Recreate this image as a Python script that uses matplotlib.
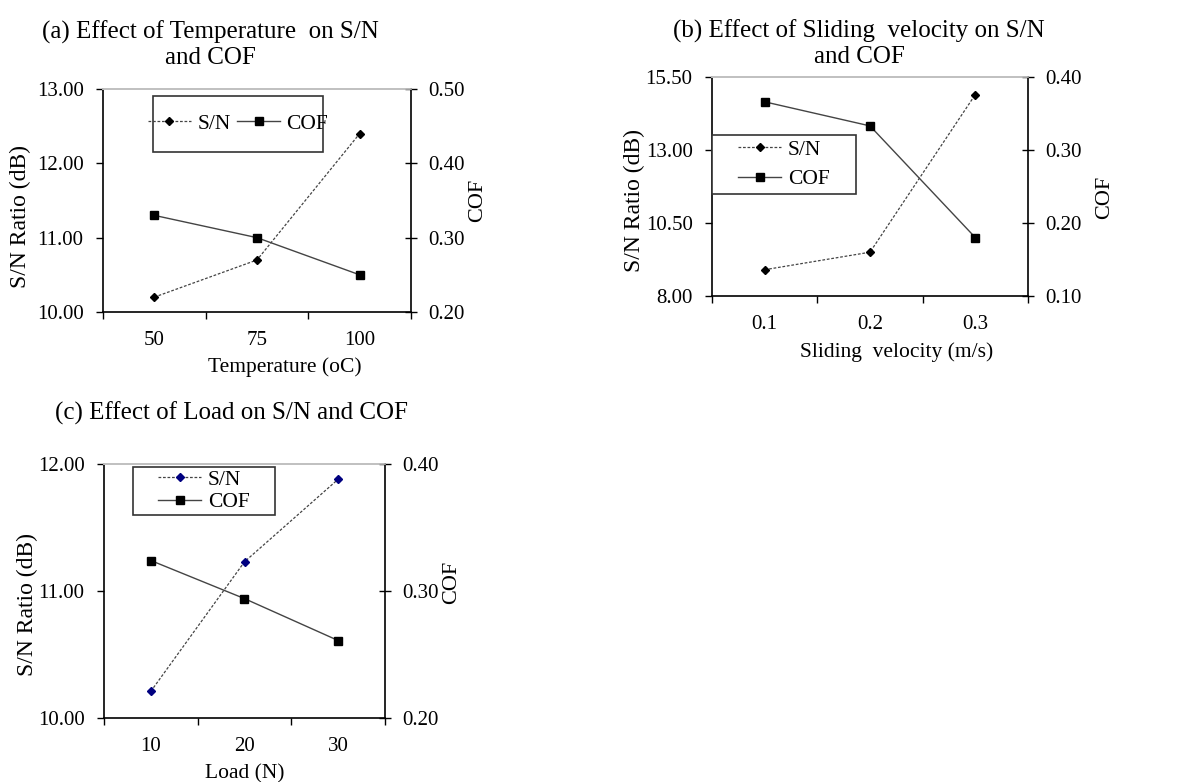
import matplotlib
matplotlib.use('Agg')
import matplotlib.pyplot as plt
from matplotlib.patches import Rectangle

plt.rcParams['font.family'] = ['Liberation Serif', 'DejaVu Serif']

# (a) temperature
temp_levels = ['50', '75', '100']
temp_sn = [10.2, 10.7, 12.4]
temp_cof = [0.33, 0.30, 0.25]

# (b) sliding velocity
vel_levels = ['0.1', '0.2', '0.3']
vel_sn = [8.9, 9.5, 14.9]
vel_cof = [0.366, 0.333, 0.18]

# (c) load
load_levels = ['10', '20', '30']
load_sn = [10.21, 11.23, 11.88]
load_cof = [0.324, 0.294, 0.261]

W, H = 1182, 782
fig = plt.figure(figsize=(W / 100, H / 100), dpi=100)


def fx(x):
    return x / W


def fy(y):
    return 1 - y / H


def panel(box, levels, sn, cof, sn_ticks, cof_ticks, sn_color):
    l, t, r, b = box
    ax = fig.add_axes([fx(l), fy(b), fx(r - l), (b - t) / H])
    ax2 = ax.twinx()
    x = list(range(1, len(levels) + 1))
    ax.plot(x, sn, linestyle=(0, (2.2, 1.4)), color='#444444', lw=0.9,
            marker='D', ms=4.5, mfc=sn_color, mec=sn_color, label='S/N')
    ax2.plot(x, cof, '-', color='#444444', lw=1.0,
             marker='s', ms=5.8, mfc='black', mec='black', label='COF')

    ax.set_xlim(0.5, len(levels) + 0.5)
    ax.set_xticks([i + 0.5 for i in range(len(levels) + 1)])
    ax.set_xticklabels([])
    ax.set_xticks(x, minor=True)
    ax.set_xticklabels(levels, minor=True)
    ax.tick_params(axis='x', which='major', direction='out', length=5, width=1)
    ax.tick_params(axis='x', which='minor', length=0, pad=14, labelsize=15)

    ax.set_ylim(sn_ticks[0], sn_ticks[-1])
    ax.set_yticks(sn_ticks)
    ax.set_yticklabels([f'{v:.2f}' for v in sn_ticks])
    ax.tick_params(axis='y', direction='out', length=5, width=1, pad=9, labelsize=15)

    ax2.set_ylim(cof_ticks[0], cof_ticks[-1])
    ax2.set_yticks(cof_ticks)
    ax2.set_yticklabels([f'{v:.2f}' for v in cof_ticks])
    ax2.tick_params(axis='y', direction='inout', length=9, width=1, pad=8, labelsize=15)

    for a in (ax, ax2):
        a.spines['top'].set_color('#c0c0c0')
        a.spines['top'].set_linewidth(1.2)
    ax.spines['right'].set_visible(False)
    ax2.spines['left'].set_visible(False)
    ax2.spines['bottom'].set_visible(False)
    ax.spines['left'].set_linewidth(1.2)
    ax.spines['bottom'].set_linewidth(1.2)
    ax2.spines['right'].set_linewidth(1.2)
    return ax, ax2


def legend_box(ax, ax2, box, ncol, labelspacing):
    l, t, r, b = box
    fig.add_artist(Rectangle((fx(l), fy(b)), fx(r - l), (b - t) / H,
                             transform=fig.transFigure, facecolor='white',
                             edgecolor='#333333', lw=1.2, zorder=3))
    handles = ax.get_lines() + ax2.get_lines()
    leg = fig.legend(handles, ['S/N', 'COF'], loc='center',
                     bbox_to_anchor=(fx((l + r) / 2), fy((t + b) / 2)),
                     ncol=ncol, frameon=False, fontsize=15.5, handlelength=2,
                     handletextpad=0.3, columnspacing=0.3,
                     labelspacing=labelspacing, borderpad=0, numpoints=1)
    leg.set_zorder(4)


def label(x, y, s, size=15.5, rot=0):
    fig.text(fx(x), fy(y), s, ha='center', va='center', fontsize=size,
             rotation=rot, linespacing=1.2)


# (a)
box_a = (103, 89, 411, 312)
ax, ax2 = panel(box_a, temp_levels, temp_sn, temp_cof,
                [10, 11, 12, 13], [0.2, 0.3, 0.4, 0.5], 'black')
legend_box(ax, ax2, (153, 96, 323, 152), 2, 0.4)
label(210, 45, '(a) Effect of Temperature  on S/N\nand COF', size=18)
label(20, 217, 'S/N Ratio (dB)', size=17, rot=90)
label(478, 200, 'COF', size=16, rot=90)
label(285, 367, 'Temperature (oC)')

# (b)
box_b = (712, 77, 1028, 296)
ax, ax2 = panel(box_b, vel_levels, vel_sn, vel_cof,
                [8.0, 10.5, 13.0, 15.5], [0.1, 0.2, 0.3, 0.4], 'black')
legend_box(ax, ax2, (712, 135, 856, 194), 1, 0.45)
label(859, 44, '(b) Effect of Sliding  velocity on S/N\nand COF', size=18)
label(634, 200, 'S/N Ratio (dB)', size=17, rot=90)
label(1105, 197, 'COF', size=16, rot=90)
label(897, 352, 'Sliding  velocity (m/s)')

# (c)
box_c = (104, 464, 385, 718)
ax, ax2 = panel(box_c, load_levels, load_sn, load_cof,
                [10, 11, 12], [0.2, 0.3, 0.4], '#000080')
legend_box(ax, ax2, (133, 467, 275, 515), 1, 0.1)
label(232, 413, '(c) Effect of Load on S/N and COF', size=18)
label(27, 605, 'S/N Ratio (dB)', size=17, rot=90)
label(452, 582, 'COF', size=16, rot=90)
label(245, 774, 'Load (N)')

fig.savefig('out.png', dpi=100)
